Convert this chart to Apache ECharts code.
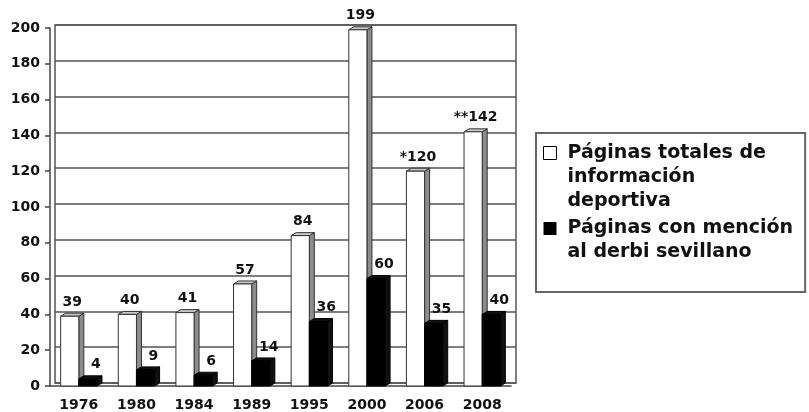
<!DOCTYPE html>
<html>
<head>
<meta charset="utf-8">
<script src="https://cdn.jsdelivr.net/npm/echarts@6/dist/echarts.min.js"></script>
<style>
  html, body { margin: 0; padding: 0; background: #fff; }
  #chart { width: 809px; height: 412px; }
</style>
</head>
<body>
<div id="chart"></div>
<script>
// --- datos ---
const years = ['1976', '1980', '1984', '1989', '1995', '2000', '2006', '2008'];
const totalPages = [39, 40, 41, 57, 84, 199, 120, 142];
const derbyPages = [4, 9, 6, 14, 36, 60, 35, 40];
const totalMarks = ['', '', '', '', '', '', '*', '**'];
const yTicks = [0, 20, 40, 60, 80, 100, 120, 140, 160, 180, 200];

const totalName = 'Páginas totales de información deportiva';
const derbyName = 'Páginas con mención al derbi sevillano';
const legendText = {};
legendText[totalName] = 'Páginas totales de\ninformación\ndeportiva';
legendText[derbyName] = 'Páginas con mención\nal derbi sevillano';

const FONT = "'DejaVu Sans', sans-serif";
const DEPTH_X = 5, DEPTH_Y = -3;

// barra con efecto 3D (frente, lateral y tapa)
function makeBar(which, marks) {
    return function (params, api) {
        const i = api.value(0);
        const v = api.value(1);
        const top = api.coord([i, v]);
        const base = api.coord([i, 0]);
        const bw = api.size([1, 0])[0] * 0.315;
        const x0 = which === 0 ? top[0] - bw : top[0];
        const x1 = x0 + bw;
        const y0 = top[1], yb = base[1];
        const white = which === 0;
        const edge = white ? '#333' : '#000';
        const label = (marks ? marks[i] : '') + v;
        return {
            type: 'group',
            children: [
                {
                    type: 'polygon',
                    shape: { points: [[x1, y0], [x1 + DEPTH_X, y0 + DEPTH_Y], [x1 + DEPTH_X, yb + DEPTH_Y], [x1, yb]] },
                    style: { fill: white ? '#8c8c8c' : '#111', stroke: edge, lineWidth: 1 }
                },
                {
                    type: 'polygon',
                    shape: { points: [[x0, y0], [x0 + DEPTH_X, y0 + DEPTH_Y], [x1 + DEPTH_X, y0 + DEPTH_Y], [x1, y0]] },
                    style: { fill: white ? '#c8c8c8' : '#111', stroke: edge, lineWidth: 1 }
                },
                {
                    type: 'rect',
                    shape: { x: x0, y: y0, width: bw, height: yb - y0 },
                    style: { fill: white ? '#fff' : '#000', stroke: edge, lineWidth: 1 }
                },
                {
                    type: 'text',
                    style: {
                        text: label,
                        x: white ? x0 + (bw + DEPTH_X) / 2 : x0 + 17,
                        y: y0 - 7,
                        align: 'center',
                        verticalAlign: 'bottom',
                        fontFamily: FONT,
                        fontWeight: 'bold',
                        fontSize: 14,
                        fill: '#111'
                    }
                }
            ]
        };
    };
}

const chart = echarts.init(document.getElementById('chart'));

// iconos de la leyenda: el cuadrado se alinea con la primera línea del texto
const iconTotal = 'path://M0,0h13v13h-13Z M13,61';
const iconDerby = 'path://M0,0 M0,12h13v13h-13Z M13,61';

chart.setOption({
    backgroundColor: '#fff',
    animation: false,
    grid: [
        // frente: ejes, etiquetas y barras
        { left: 50, right: 298, top: 28, bottom: 26 },
        // pared del fondo: rejilla
        { left: 55, right: 293, top: 25, bottom: 29, show: true, borderColor: '#555', borderWidth: 1.5, backgroundColor: '#fff' }
    ],
    legend: {
        orient: 'vertical',
        left: 536,
        top: 133,
        padding: [8, 12, 21, 7],
        borderColor: '#666',
        borderWidth: 2,
        itemWidth: 13,
        itemHeight: 61,
        itemGap: -3,
        formatter: name => legendText[name],
        textStyle: { fontFamily: FONT, fontWeight: 'bold', fontSize: 19, lineHeight: 24, color: '#111', padding: [0, 0, 0, 6] },
        data: [
            { name: totalName, icon: iconTotal, itemStyle: { color: '#fff', borderColor: '#000', borderWidth: 1 } },
            { name: derbyName, icon: iconDerby, itemStyle: { color: '#000', borderWidth: 0 } }
        ]
    },
    xAxis: [
        {
            type: 'category', gridIndex: 0, data: years,
            axisLine: { lineStyle: { color: '#444', width: 1.5 } },
            axisTick: { length: 5, lineStyle: { color: '#444', width: 1.5 } },
            axisLabel: { margin: 12, fontFamily: FONT, fontWeight: 'bold', fontSize: 14, color: '#111' }
        },
        { type: 'category', gridIndex: 1, data: years, show: false }
    ],
    yAxis: [
        {
            type: 'value', gridIndex: 0, min: 0, max: 200, interval: 20,
            axisLine: { show: true, lineStyle: { color: '#444', width: 1.5 } },
            axisTick: { show: true, length: 5, lineStyle: { color: '#444', width: 1.5 } },
            splitLine: { show: false },
            axisLabel: {
                margin: 10, fontFamily: FONT, fontWeight: 'bold', fontSize: 14, color: '#111',
                formatter: v => (yTicks.indexOf(v) >= 0 ? String(v) : '')
            }
        },
        {
            type: 'value', gridIndex: 1, min: 0, max: 200, interval: 20,
            axisLine: { show: false }, axisTick: { show: false }, axisLabel: { show: false },
            splitLine: { show: true, lineStyle: { color: '#555', width: 1.5 } }
        }
    ],
    series: [
        {
            name: totalName, type: 'custom', xAxisIndex: 0, yAxisIndex: 0,
            itemStyle: { color: '#fff', borderColor: '#000' },
            renderItem: makeBar(0, totalMarks),
            encode: { x: 0, y: 1 },
            data: totalPages.map((v, i) => [i, v])
        },
        {
            name: derbyName, type: 'custom', xAxisIndex: 0, yAxisIndex: 0,
            itemStyle: { color: '#000' },
            renderItem: makeBar(1, null),
            encode: { x: 0, y: 1 },
            data: derbyPages.map((v, i) => [i, v])
        }
    ]
});
</script>
</body>
</html>
